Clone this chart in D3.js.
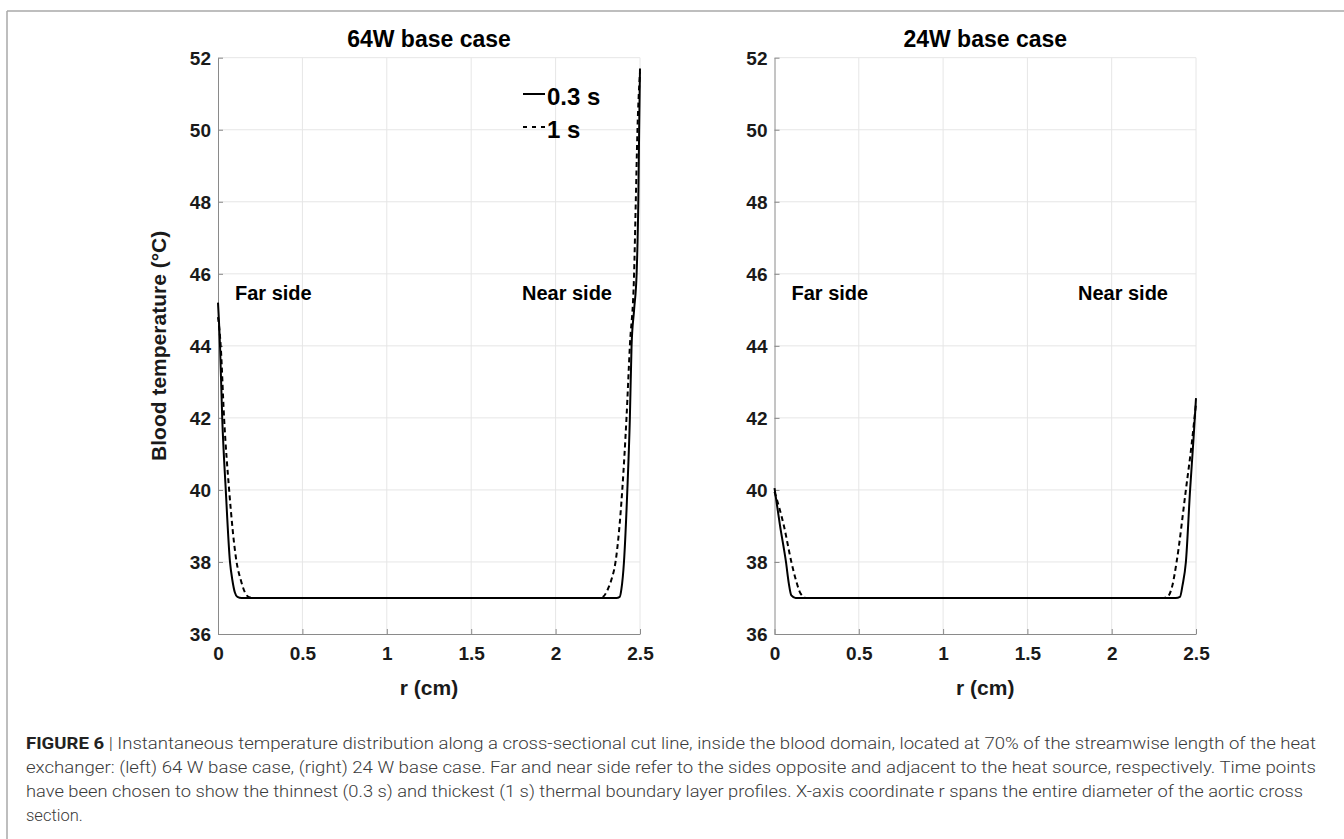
<!DOCTYPE html>
<html>
<head>
<meta charset="utf-8">
<script src="https://cdn.jsdelivr.net/npm/d3@7"></script>
<style>
  body { margin: 0; background: #fff; }
  svg { display: block; }
</style>
</head>
<body>
<div id="graph"></div>
<script>
// global variables
var width = 1344;
var height = 839;
var svg = null;

// data
var titles = ["64W base case", "24W base case"];
var xTicks = [0, 0.5, 1, 1.5, 2, 2.5];
var xTickLabels = ["0", "0.5", "1", "1.5", "2", "2.5"];
var yTicks = [36, 38, 40, 42, 44, 46, 48, 50, 52];
var legendLabels = ["0.3 s", "1 s"];

// 64 W, t = 0.3 s
var r64_03 = [0, 0.012, 0.025, 0.046, 0.071, 0.085, 0.1, 0.115, 0.14, 0.5, 1.0, 1.5, 2.0, 2.3, 2.36, 2.38, 2.39, 2.405, 2.425, 2.44, 2.45, 2.465, 2.48, 2.49, 2.495, 2.5];
var t64_03 = [45.2, 44, 42, 40, 38, 37.5, 37.15, 37.03, 37, 37, 37, 37, 37, 37, 37, 37.03, 37.25, 38, 40, 42, 44, 45, 46, 48, 50, 51.7];
// 64 W, t = 1 s
var r64_1 = [0, 0.016, 0.036, 0.066, 0.11, 0.135, 0.16, 0.185, 0.22, 0.5, 1.0, 1.5, 2.0, 2.25, 2.28, 2.31, 2.33, 2.355, 2.395, 2.42, 2.44, 2.465, 2.475, 2.485, 2.5];
var t64_1 = [44.8, 44, 42, 40, 38, 37.5, 37.15, 37.02, 37, 37, 37, 37, 37, 37, 37.03, 37.25, 37.5, 38, 40, 42, 44, 46, 48, 50, 51.6];
// 24 W, t = 0.3 s
var r24_03 = [0, 0.033, 0.068, 0.085, 0.1, 0.125, 0.5, 1.0, 1.5, 2.0, 2.38, 2.405, 2.42, 2.44, 2.465, 2.485, 2.5];
var t24_03 = [40.05, 39, 38, 37.4, 37.07, 37, 37, 37, 37, 37, 37, 37.03, 37.35, 38, 40, 41.4, 42.55];
// 24 W, t = 1 s
var r24_1 = [0, 0.056, 0.1, 0.13, 0.155, 0.19, 0.5, 1.0, 1.5, 2.0, 2.3, 2.33, 2.36, 2.385, 2.44, 2.475, 2.5];
var t24_1 = [39.95, 39, 38, 37.45, 37.12, 37, 37, 37, 37, 37, 37, 37.03, 37.35, 38, 40, 41.3, 42.4];

var captionLines = [
    "Instantaneous temperature distribution along a cross-sectional cut line, inside the blood domain, located at 70% of the streamwise length of the heat",
    "exchanger: (left) 64 W base case, (right) 24 W base case. Far and near side refer to the sides opposite and adjacent to the heat source, respectively. Time points",
    "have been chosen to show the thinnest (0.3 s) and thickest (1 s) thermal boundary layer profiles. X-axis coordinate r spans the entire diameter of the aortic cross",
    "section."
];

// plot settings
var font = "'Liberation Sans', Arial, Helvetica, sans-serif";
var axis_color = "#8a8a8a";
var grid_color = "#e6e6e6";
var text_color = "#1a1a1a";
var line_width = 2;
var dash = "5,3.5";
var plotTop = 57.7;
var plotBottom = 634;
var panels = [
    {left: 218, right: 640, title: titles[0], solid: [r64_03, t64_03], dashed: [r64_1, t64_1], legend: true},
    {left: 774.5, right: 1196, title: titles[1], solid: [r24_03, t24_03], dashed: [r24_1, t24_1], legend: false}
];

function showFigure(){
    svg = d3.select("#graph")
        .append("svg")
        .attr("width", width)
        .attr("height", height);

    // figure frame (top and left border)
    svg.append("line").attr("x1", 7).attr("x2", width).attr("y1", 11).attr("y2", 11)
        .attr("stroke", "#a8a8a8").attr("stroke-width", 1.5);
    svg.append("line").attr("x1", 7).attr("x2", 7).attr("y1", 11).attr("y2", height)
        .attr("stroke", "#a8a8a8").attr("stroke-width", 1.5);

    panels.forEach(function(p){ drawPanel(p); });

    // y label only on left panel
    svg.append("text")
        .attr("transform", "translate(166," + ((plotTop + plotBottom) / 2) + ") rotate(-90)")
        .attr("text-anchor", "middle")
        .attr("font-family", font)
        .attr("font-weight", "bold")
        .attr("font-size", 21)
        .attr("fill", text_color)
        .text("Blood temperature (°C)");

    drawCaption();
}

function drawPanel(p){
    var x = d3.scaleLinear().domain([0, 2.5]).range([p.left, p.right]);
    var y = d3.scaleLinear().domain([36, 52]).range([plotBottom, plotTop]);
    var g = svg.append("g");

    // grid
    g.append("g").selectAll("line")
        .data(xTicks.slice(1))
        .enter().append("line")
        .attr("x1", function(d){ return x(d); })
        .attr("x2", function(d){ return x(d); })
        .attr("y1", plotTop).attr("y2", plotBottom)
        .attr("stroke", grid_color).attr("stroke-width", 1);
    g.append("g").selectAll("line")
        .data(yTicks.slice(1))
        .enter().append("line")
        .attr("x1", p.left).attr("x2", p.right)
        .attr("y1", function(d){ return y(d); })
        .attr("y2", function(d){ return y(d); })
        .attr("stroke", grid_color).attr("stroke-width", 1);

    // axes, ticks inward like matlab
    var xAxis = d3.axisBottom(x).tickValues(xTicks)
        .tickFormat(function(d, i){ return xTickLabels[i]; })
        .tickSizeInner(-5).tickSizeOuter(0).tickPadding(13);
    var yAxis = d3.axisLeft(y).tickValues(yTicks)
        .tickSizeInner(-5).tickSizeOuter(0).tickPadding(7);

    var gx = g.append("g").attr("transform", "translate(0," + plotBottom + ")").call(xAxis);
    var gy = g.append("g").attr("transform", "translate(" + p.left + ",0)").call(yAxis);
    [gx, gy].forEach(function(a){
        a.select(".domain").attr("stroke", axis_color);
        a.selectAll(".tick line").attr("stroke", axis_color);
        a.selectAll(".tick text")
            .attr("font-family", font)
            .attr("font-weight", "bold")
            .attr("font-size", 19)
            .attr("fill", text_color);
    });
    gy.selectAll(".tick text").attr("dy", "0.36em");

    // curves
    var line = d3.line()
        .x(function(d){ return x(d[0]); })
        .y(function(d){ return y(d[1]); })
        .curve(d3.curveMonotoneX);
    g.append("path")
        .datum(d3.zip(p.dashed[0], p.dashed[1]))
        .attr("d", line)
        .attr("fill", "none")
        .attr("stroke", "#000")
        .attr("stroke-width", line_width)
        .attr("stroke-dasharray", dash);
    g.append("path")
        .datum(d3.zip(p.solid[0], p.solid[1]))
        .attr("d", line)
        .attr("fill", "none")
        .attr("stroke", "#000")
        .attr("stroke-width", line_width);

    // title
    g.append("text")
        .attr("x", (p.left + p.right) / 2)
        .attr("y", 47)
        .attr("text-anchor", "middle")
        .attr("font-family", font).attr("font-weight", "bold").attr("font-size", 23)
        .attr("fill", "#000")
        .text(p.title);

    // x label
    g.append("text")
        .attr("x", (p.left + p.right) / 2)
        .attr("y", 695)
        .attr("text-anchor", "middle")
        .attr("font-family", font).attr("font-weight", "bold").attr("font-size", 21)
        .attr("fill", text_color)
        .text("r (cm)");

    // annotations
    g.append("text")
        .attr("x", x(0) + 17).attr("y", 300)
        .attr("font-family", font).attr("font-weight", "bold").attr("font-size", 20)
        .attr("fill", "#000")
        .text("Far side");
    g.append("text")
        .attr("x", x(2.5) - 28).attr("y", 300)
        .attr("text-anchor", "end")
        .attr("font-family", font).attr("font-weight", "bold").attr("font-size", 20)
        .attr("fill", "#000")
        .text("Near side");

    if (p.legend) drawLegend(g, x);
}

function drawLegend(g, x){
    var lx = x(2.5) - 117;
    var rows = [105, 138];
    legendLabels.forEach(function(lab, i){
        g.append("line")
            .attr("x1", lx).attr("x2", lx + 22)
            .attr("y1", rows[i] - 11).attr("y2", rows[i] - 11)
            .attr("stroke", "#000")
            .attr("stroke-width", line_width)
            .attr("stroke-dasharray", i == 0 ? null : "4,5");
        g.append("text")
            .attr("x", lx + 24).attr("y", rows[i])
            .attr("font-family", font).attr("font-weight", "bold").attr("font-size", 24)
            .attr("fill", "#000")
            .text(lab);
    });
}

function drawCaption(){
    var capFont = "Roboto, 'Liberation Sans', sans-serif";
    var ends = [1316, 1316, 1303];
    captionLines.forEach(function(txt, i){
        var t = svg.append("text")
            .attr("x", 26)
            .attr("y", 749 + i * 24)
            .attr("font-family", capFont)
            .attr("font-weight", 300)
            .attr("font-size", 16.5)
            .attr("fill", "#3a3a3a");
        if (i == 0){
            t.append("tspan").attr("font-weight", "bold").attr("fill", "#222").text("FIGURE 6");
            t.append("tspan").text(" | " + txt);
        } else {
            t.text(txt);
        }
        if (i < 3){
            t.attr("textLength", ends[i] - 26).attr("lengthAdjust", "spacingAndGlyphs");
        }
    });
}

showFigure();
</script>
</body>
</html>
